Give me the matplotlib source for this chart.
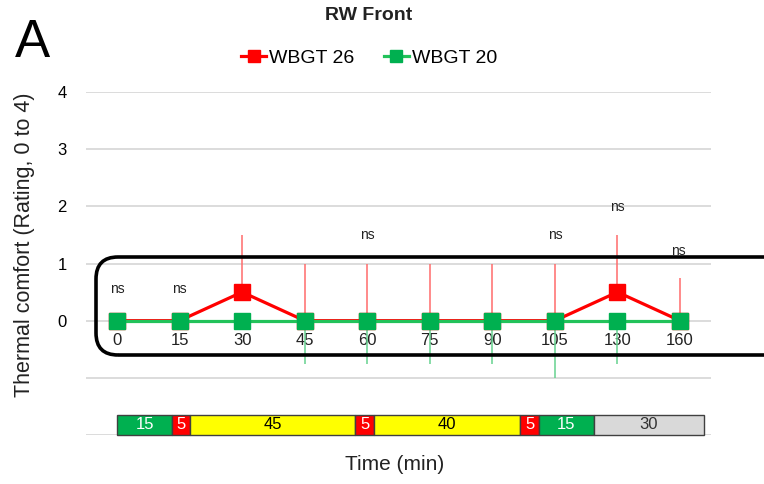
import matplotlib
matplotlib.use("Agg")
import matplotlib.pyplot as plt
from matplotlib.patches import FancyBboxPatch
from matplotlib.lines import Line2D
from matplotlib.transforms import IdentityTransform
import numpy as np

plt.rcParams['font.family'] = ['Liberation Sans', 'DejaVu Sans']

# thermal comfort ratings per time point
times = ['0', '15', '30', '45', '60', '75', '90', '105', '130', '160']
wbgt26 = [0, 0, 0.5, 0, 0, 0, 0, 0, 0.5, 0]
wbgt26_sd = [0, 0, 1.0, 1.0, 1.0, 1.0, 1.0, 1.0, 1.0, 0.75]
wbgt20 = [0, 0, 0, 0, 0, 0, 0, 0, 0, 0]
wbgt20_sd = [0, 0, 0, 0.75, 0.75, 0.75, 0.75, 1.0, 0.75, 0]

# "ns" annotations (time index, height)
ns_idx = [0, 1, 4, 7, 8, 9]
ns_y = [0.55, 0.55, 1.5, 1.5, 1.98, 1.22]

# protocol phases (minutes)
phase_min = [15, 5, 45, 5, 40, 5, 15, 30]
phase_col = ['#00B050', '#FF0000', '#FFFF00', '#FF0000', '#FFFF00', '#FF0000', '#00B050', '#D9D9D9']
phase_txt = ['white', 'white', 'black', 'white', 'black', 'white', 'white', '#333333']

RED = '#FF0000'
GREEN = '#00B050'
GREEN_LINE = '#22C25A'

fig = plt.figure(figsize=(7.64, 4.84), dpi=100)
ax = fig.add_axes([0.1122, 0.1012, 0.8188, 0.7087])

x = np.arange(len(times))

ax.set_xlim(-0.5, 9.5)
ax.set_ylim(-2, 4)
ax.set_yticks(range(-2, 5))
ax.set_yticklabels(['', '', '0', '1', '2', '3', '4'], fontsize=12)
ax.set_xticks([])
ax.tick_params(axis='y', length=0, pad=13.5)
ax.grid(axis='y', color='#D9D9D9', lw=1.3)
ax.set_axisbelow(True)
for s in ax.spines.values():
    s.set_visible(False)

# category labels sit on the zero line
for i, t in enumerate(times):
    ax.annotate(t, (i, 0), xytext=(0, -14), textcoords='offset points',
                ha='center', va='center', fontsize=12, color='#222222', zorder=2)

# error bars: WBGT 26 upward, WBGT 20 downward
ax.errorbar(x, wbgt26, yerr=[np.zeros(len(x)), wbgt26_sd], fmt='none',
            ecolor='#FF6B6B', elinewidth=1.1, capsize=0, zorder=3)
ax.errorbar(x, wbgt20, yerr=[wbgt20_sd, np.zeros(len(x))], fmt='none',
            ecolor='#66D28F', elinewidth=1.1, capsize=0, zorder=3)

ax.plot(x, wbgt26, color=RED, lw=2.3, marker='s', ms=11, zorder=4)
ax.plot(x, wbgt20, color=GREEN_LINE, lw=2.3, marker='s', ms=11,
        mfc=GREEN, mec=GREEN, zorder=5)

for i, y in zip(ns_idx, ns_y):
    ax.text(i - 0.03 * (i == 9), y, 'ns', ha='center', va='center', fontsize=10, color='#222222')

# protocol timeline along the bottom
bar_start, bar_end = 0.0, 9.38
scale = (bar_end - bar_start) / sum(phase_min)
left = bar_start
for m, c, tc in zip(phase_min, phase_col, phase_txt):
    w = m * scale
    ax.barh(-1.82, w, height=0.35, left=left, color=c, edgecolor='#404040',
            lw=1.0, zorder=3, clip_on=False)
    ax.text(left + w / 2, -1.82, str(m), ha='center', va='center', fontsize=12,
            color=tc, zorder=4)
    left += w

# highlight box around the zero line
box = FancyBboxPatch((96, 129), 704, 98, boxstyle='round,pad=0,rounding_size=22',
                     transform=IdentityTransform(), fill=False, ec='black', lw=2.6)
fig.add_artist(box)

fig.text(0.032, 0.494, 'Thermal comfort (Rating, 0 to 4)', rotation=90,
         ha='center', va='center', fontsize=15.5, color='#222222')
fig.text(0.516, 0.04, 'Time (min)', ha='center', va='center', fontsize=15, color='#222222')
fig.text(0.483, 0.967, 'RW Front', ha='center', va='center', fontsize=14,
         fontweight='bold', color='#222222')
fig.text(0.02, 0.912, 'A', ha='left', va='center', fontsize=38, color='black')

handles = [Line2D([], [], color=RED, lw=2.3, marker='s', ms=9),
           Line2D([], [], color=GREEN_LINE, lw=2.3, marker='s', ms=9, mfc=GREEN, mec=GREEN)]
fig.legend(handles, ['WBGT 26', 'WBGT 20'], loc='center', bbox_to_anchor=(0.483, 0.88),
           ncol=2, frameon=False, fontsize=14, handlelength=1.3, handletextpad=0.15,
           columnspacing=1.5)

fig.savefig('out.png', dpi=100)
